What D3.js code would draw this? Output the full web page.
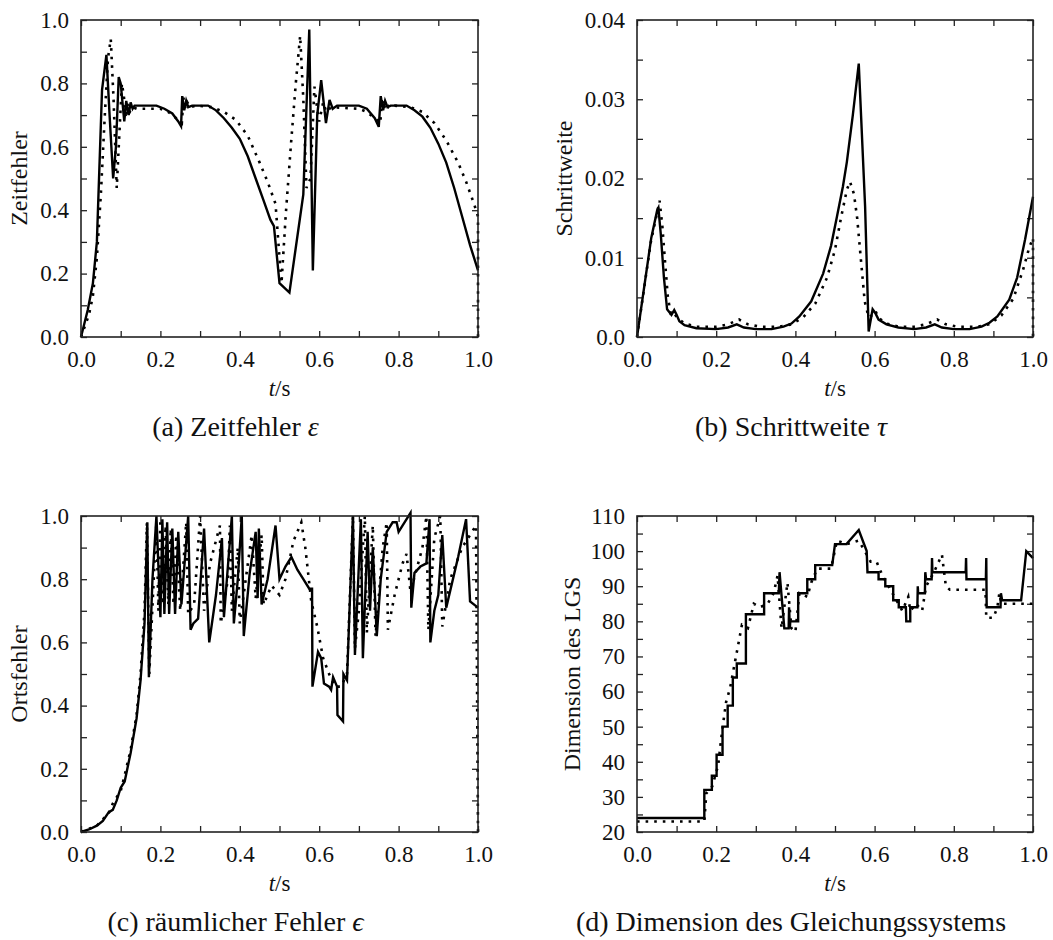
<!DOCTYPE html>
<html>
<head>
<meta charset="utf-8">
<script src="https://cdn.jsdelivr.net/npm/d3@7"></script>
<style>
  body { margin: 0; background: #fff; }
  svg text { font-family: "Liberation Serif", "DejaVu Serif", serif; fill: #111; }
</style>
</head>
<body>
<svg id="fig" width="1053" height="940"></svg>
<script>
// (a) Zeitfehler, [t, value]
const zeitSolid = [[0,0],[0.017,0.085],[0.03,0.17],[0.04,0.3],[0.053,0.78],[0.064,0.89],[0.072,0.7],[0.081,0.5],[0.088,0.6],[0.095,0.82],[0.1,0.8],[0.109,0.68],[0.114,0.745],[0.12,0.7],[0.125,0.74],[0.13,0.72],[0.135,0.73],[0.16,0.73],[0.19,0.73],[0.21,0.72],[0.23,0.705],[0.245,0.68],[0.252,0.665],[0.255,0.76],[0.26,0.715],[0.265,0.745],[0.27,0.725],[0.28,0.73],[0.32,0.73],[0.34,0.715],[0.36,0.69],[0.38,0.66],[0.4,0.625],[0.42,0.57],[0.44,0.5],[0.46,0.43],[0.477,0.37],[0.486,0.35],[0.5,0.17],[0.525,0.14],[0.56,0.45],[0.575,0.97],[0.584,0.21],[0.595,0.7],[0.605,0.81],[0.617,0.675],[0.626,0.748],[0.634,0.72],[0.645,0.73],[0.7,0.73],[0.72,0.72],[0.74,0.69],[0.75,0.663],[0.755,0.76],[0.761,0.715],[0.766,0.745],[0.772,0.725],[0.78,0.73],[0.82,0.73],[0.84,0.715],[0.86,0.695],[0.88,0.66],[0.9,0.61],[0.92,0.55],[0.94,0.47],[0.96,0.38],[0.98,0.29],[1.0,0.21]]
const zeitDotted = [[0,0],[0.02,0.07],[0.03,0.13],[0.04,0.25],[0.05,0.45],[0.06,0.7],[0.068,0.88],[0.075,0.94],[0.082,0.75],[0.09,0.47],[0.097,0.65],[0.103,0.8],[0.108,0.76],[0.113,0.69],[0.118,0.735],[0.123,0.71],[0.13,0.725],[0.14,0.72],[0.2,0.72],[0.22,0.71],[0.24,0.69],[0.25,0.68],[0.254,0.675],[0.258,0.755],[0.263,0.72],[0.268,0.74],[0.275,0.725],[0.29,0.73],[0.33,0.725],[0.36,0.71],[0.39,0.685],[0.42,0.635],[0.45,0.55],[0.47,0.49],[0.49,0.42],[0.5,0.25],[0.505,0.17],[0.516,0.39],[0.529,0.61],[0.541,0.8],[0.552,0.95],[0.56,0.75],[0.568,0.47],[0.578,0.5],[0.588,0.79],[0.595,0.72],[0.6,0.68],[0.61,0.74],[0.618,0.71],[0.63,0.725],[0.7,0.72],[0.72,0.71],[0.74,0.69],[0.754,0.675],[0.758,0.755],[0.763,0.72],[0.768,0.74],[0.775,0.725],[0.79,0.73],[0.83,0.725],[0.86,0.71],[0.89,0.675],[0.92,0.62],[0.95,0.55],[0.97,0.49],[0.99,0.42],[1.0,0.38],[1.0,0]]

// (b) Schrittweite
const stepSolid = [[0,0],[0.036,0.0125],[0.051,0.016],[0.054,0.0163],[0.06,0.013],[0.068,0.0075],[0.076,0.0035],[0.087,0.0028],[0.094,0.0034],[0.1,0.0028],[0.107,0.002],[0.12,0.0015],[0.15,0.0011],[0.2,0.001],[0.23,0.0012],[0.252,0.0016],[0.27,0.0012],[0.3,0.001],[0.34,0.001],[0.37,0.0013],[0.39,0.0017],[0.41,0.0026],[0.44,0.0045],[0.47,0.008],[0.49,0.0115],[0.505,0.0152],[0.52,0.019],[0.53,0.0221],[0.545,0.028],[0.56,0.0345],[0.576,0.0165],[0.585,0.0007],[0.595,0.0035],[0.602,0.003],[0.61,0.0022],[0.63,0.0016],[0.66,0.0012],[0.7,0.001],[0.73,0.0012],[0.752,0.0016],[0.77,0.0012],[0.8,0.001],[0.84,0.001],[0.87,0.0013],[0.89,0.0018],[0.91,0.0026],[0.94,0.0047],[0.96,0.0075],[0.98,0.0123],[1.0,0.0177]]
const stepDotted = [[0,0],[0.035,0.012],[0.05,0.0155],[0.057,0.0172],[0.064,0.014],[0.07,0.01],[0.078,0.005],[0.085,0.003],[0.092,0.0032],[0.1,0.0025],[0.12,0.0017],[0.15,0.0013],[0.2,0.0013],[0.23,0.0016],[0.258,0.0022],[0.28,0.0016],[0.31,0.0013],[0.36,0.0013],[0.39,0.0016],[0.42,0.0025],[0.45,0.0042],[0.48,0.0075],[0.5,0.011],[0.515,0.015],[0.53,0.0186],[0.538,0.0196],[0.548,0.018],[0.556,0.015],[0.565,0.01],[0.575,0.0045],[0.585,0.0025],[0.595,0.0028],[0.602,0.0033],[0.61,0.0024],[0.63,0.0017],[0.66,0.0013],[0.7,0.0013],[0.73,0.0016],[0.758,0.0022],[0.78,0.0016],[0.81,0.0013],[0.86,0.0013],[0.89,0.0016],[0.92,0.0027],[0.95,0.0048],[0.975,0.0085],[0.99,0.0112],[1.0,0.0125],[1.0,0]]

// (c) Ortsfehler
const ortSolid = [[0,0],[0.02,0.008],[0.04,0.02],[0.055,0.035],[0.07,0.063],[0.08,0.07],[0.09,0.1],[0.1,0.14],[0.11,0.16],[0.125,0.25],[0.14,0.36],[0.15,0.48],[0.16,0.66],[0.167,0.98],[0.171,0.49],[0.18,0.8],[0.19,1.0],[0.2,0.68],[0.205,0.99],[0.21,0.69],[0.217,0.98],[0.222,0.69],[0.23,0.96],[0.237,0.69],[0.245,0.95],[0.253,0.72],[0.27,1.0],[0.276,0.64],[0.283,0.66],[0.295,0.675],[0.31,0.96],[0.323,0.6],[0.34,0.75],[0.355,0.93],[0.36,0.68],[0.38,1.0],[0.385,0.66],[0.395,0.8],[0.405,1.0],[0.41,0.62],[0.425,0.82],[0.44,0.95],[0.445,0.74],[0.448,0.96],[0.455,0.72],[0.47,0.8],[0.49,0.97],[0.5,0.8],[0.515,0.84],[0.53,0.87],[0.545,0.83],[0.56,0.8],[0.575,0.77],[0.582,0.77],[0.583,0.46],[0.597,0.57],[0.605,0.55],[0.612,0.47],[0.625,0.46],[0.63,0.45],[0.635,0.49],[0.645,0.46],[0.646,0.37],[0.66,0.35],[0.661,0.5],[0.67,0.48],[0.685,1.0],[0.69,0.56],[0.705,0.99],[0.71,0.55],[0.722,0.95],[0.728,0.7],[0.735,0.9],[0.745,0.62],[0.755,0.8],[0.77,0.95],[0.785,0.98],[0.795,0.98],[0.8,0.95],[0.815,0.98],[0.83,1.01],[0.832,0.71],[0.84,0.82],[0.855,0.84],[0.87,0.85],[0.878,0.99],[0.88,0.6],[0.89,0.7],[0.9,0.75],[0.91,0.94],[0.92,0.71],[0.95,0.87],[0.97,0.99],[0.98,0.73],[1.0,0.71]]
const ortDotted = [[0,0],[0.04,0.02],[0.07,0.06],[0.08,0.09],[0.1,0.13],[0.11,0.18],[0.125,0.26],[0.14,0.37],[0.15,0.5],[0.16,0.7],[0.166,0.98],[0.172,0.5],[0.19,0.98],[0.195,0.7],[0.2,0.99],[0.207,0.72],[0.213,0.97],[0.22,0.72],[0.226,0.96],[0.233,0.72],[0.24,0.94],[0.25,0.7],[0.265,0.98],[0.27,0.69],[0.285,0.72],[0.3,1.0],[0.31,0.7],[0.325,0.85],[0.35,0.97],[0.352,0.66],[0.37,0.8],[0.375,0.97],[0.38,0.7],[0.395,0.9],[0.4,0.66],[0.415,0.8],[0.43,0.94],[0.44,0.74],[0.455,0.94],[0.46,0.72],[0.48,0.78],[0.5,0.75],[0.515,0.8],[0.535,0.92],[0.555,0.98],[0.565,0.9],[0.58,0.73],[0.595,0.65],[0.61,0.55],[0.625,0.5],[0.64,0.46],[0.655,0.46],[0.67,0.5],[0.685,1.0],[0.69,0.58],[0.7,0.7],[0.715,1.0],[0.72,0.63],[0.735,0.97],[0.742,0.62],[0.76,0.9],[0.77,0.98],[0.773,0.64],[0.79,0.75],[0.81,0.85],[0.82,0.88],[0.83,0.76],[0.86,0.9],[0.87,1.0],[0.875,0.64],[0.89,0.93],[0.905,1.0],[0.91,0.65],[0.93,0.8],[0.96,0.9],[0.995,0.97],[1.0,0.0]]

// (d) Dimension des LGS
const dimSolid = [[0,24],[0.17,24],[0.17,32],[0.189,32],[0.189,36],[0.201,36],[0.201,42],[0.216,42],[0.216,50],[0.229,50],[0.229,56],[0.242,56],[0.242,64],[0.252,64],[0.252,68],[0.275,68],[0.275,82],[0.321,82],[0.321,88],[0.358,88],[0.36,94],[0.372,78],[0.383,78],[0.384,84],[0.386,78],[0.387,80],[0.407,80],[0.407,88],[0.43,88],[0.43,92],[0.45,92],[0.45,96],[0.493,96],[0.5,102],[0.529,102],[0.56,106],[0.58,100],[0.582,94],[0.61,94],[0.61,92],[0.627,92],[0.627,90],[0.647,90],[0.647,86],[0.661,86],[0.661,84],[0.679,84],[0.68,80],[0.69,80],[0.69,84],[0.708,84],[0.709,90],[0.71,88],[0.727,88],[0.728,94],[0.73,92],[0.744,92],[0.745,98],[0.746,94],[0.83,94],[0.831,98],[0.832,92],[0.881,92],[0.882,98],[0.883,84],[0.918,84],[0.919,88],[0.922,86],[0.97,86],[0.983,100],[1.0,98]]
const dimDotted = [[0,23],[0.17,23],[0.175,31],[0.19,33],[0.195,35],[0.205,39],[0.212,46],[0.22,53],[0.225,57],[0.235,61],[0.245,67],[0.255,73],[0.265,79],[0.28,78],[0.295,85],[0.31,84],[0.33,85],[0.345,88],[0.355,93],[0.365,78],[0.38,91],[0.39,78],[0.4,77],[0.41,88],[0.43,87],[0.44,91],[0.455,95],[0.49,95],[0.505,103],[0.53,102],[0.56,103],[0.575,100],[0.59,97],[0.605,97],[0.62,93],[0.64,89],[0.655,86],[0.67,83],[0.685,87],[0.69,83],[0.705,85],[0.72,83],[0.73,90],[0.75,94],[0.77,99],[0.78,90],[0.79,89],[0.88,89],[0.882,81],[0.9,81],[0.91,84],[0.915,88],[0.92,85],[1.0,85]]

const panels = [
  { left: 81, right: 478, top: 20, bottom: 337, yDomain: [0, 1], yStep: 0.1, yLabelEvery: 2,
    yFmt: d3.format('.1f'), ylabel: 'Zeitfehler', ylabelX: 19, caption: '(a) Zeitfehler ', sym: 'ε',
    solid: zeitSolid, dotted: zeitDotted },
  { left: 637, right: 1033, top: 20, bottom: 337, yDomain: [0, 0.04], yStep: 0.005, yLabelEvery: 2,
    yFmt: v => v === 0 ? '0.0' : d3.format('.2f')(v), ylabel: 'Schrittweite', ylabelX: 564, caption: '(b) Schrittweite ', sym: 'τ',
    solid: stepSolid, dotted: stepDotted },
  { left: 81, right: 478, top: 516, bottom: 832, yDomain: [0, 1], yStep: 0.1, yLabelEvery: 2,
    yFmt: d3.format('.1f'), ylabel: 'Ortsfehler', ylabelX: 19, caption: '(c) räumlicher Fehler ', sym: 'ϵ',
    solid: ortSolid, dotted: ortDotted },
  { left: 637, right: 1033, top: 516, bottom: 832, yDomain: [20, 110], yStep: 5, yLabelEvery: 2,
    yFmt: d3.format('d'), ylabel: 'Dimension des LGS', ylabelX: 572, caption: '(d) Dimension des Gleichungssystems', sym: '',
    solid: dimSolid, dotted: dimDotted }
]

const svg = d3.select('#fig')
const tickLen = 6

panels.forEach(p => {
  const x = d3.scaleLinear().domain([0, 1]).range([p.left, p.right])
  const y = d3.scaleLinear().domain(p.yDomain).range([p.bottom, p.top])

  const xTicks = d3.range(0, 11).map(i => i / 10)
  const nY = Math.round((p.yDomain[1] - p.yDomain[0]) / p.yStep)
  const yTicks = d3.range(0, nY + 1).map(i => p.yDomain[0] + i * p.yStep)

  const styleAxis = g => {
    g.select('.domain').remove()
    g.selectAll('line').attr('stroke', '#222').attr('stroke-width', 1.3)
    g.selectAll('text').attr('font-size', 23).attr('font-family', null).attr('fill', '#111')
  }

  // bottom / left with labels, top / right mirrored without
  svg.append('g')
    .attr('transform', `translate(0,${p.bottom})`)
    .call(d3.axisBottom(x).tickValues(xTicks).tickSize(-tickLen).tickPadding(14)
      .tickFormat((d, i) => i % 2 === 0 ? d3.format('.1f')(d) : ''))
    .call(styleAxis)
  svg.append('g')
    .attr('transform', `translate(0,${p.top})`)
    .call(d3.axisTop(x).tickValues(xTicks).tickSize(-tickLen).tickFormat(''))
    .call(styleAxis)
  svg.append('g')
    .attr('transform', `translate(${p.left},0)`)
    .call(d3.axisLeft(y).tickValues(yTicks).tickSize(-tickLen).tickPadding(12)
      .tickFormat((d, i) => i % p.yLabelEvery === 0 ? p.yFmt(d) : ''))
    .call(styleAxis)
  svg.append('g')
    .attr('transform', `translate(${p.right},0)`)
    .call(d3.axisRight(y).tickValues(yTicks).tickSize(-tickLen).tickFormat(''))
    .call(styleAxis)

  const line = d3.line().x(d => x(d[0])).y(d => y(d[1]))

  svg.append('path')
    .attr('d', line(p.dotted))
    .attr('fill', 'none')
    .attr('stroke', '#000')
    .attr('stroke-width', 2.6)
    .attr('stroke-dasharray', '2.6 6')

  svg.append('path')
    .attr('d', line(p.solid))
    .attr('fill', 'none')
    .attr('stroke', '#000')
    .attr('stroke-width', 2.4)
    .attr('stroke-linejoin', 'miter')

  // frame
  svg.append('rect')
    .attr('x', p.left).attr('y', p.top)
    .attr('width', p.right - p.left).attr('height', p.bottom - p.top)
    .attr('fill', 'none').attr('stroke', '#222').attr('stroke-width', 1.6)

  const cx = (p.left + p.right) / 2

  // x label  t/s
  const xl = svg.append('text')
    .attr('x', cx).attr('y', p.bottom + 59)
    .attr('text-anchor', 'middle').attr('font-size', 23)
  xl.append('tspan').attr('font-style', 'italic').text('t')
  xl.append('tspan').text('/s')

  // y label
  svg.append('text')
    .attr('transform', `translate(${p.ylabelX},${(p.top + p.bottom) / 2}) rotate(-90)`)
    .attr('dy', '0.35em')
    .attr('text-anchor', 'middle').attr('font-size', 24)
    .text(p.ylabel)

  // caption, centred on the subfigure box rather than on the plot
  const cap = svg.append('text')
    .attr('x', cx - 44).attr('y', p.bottom + 99)
    .attr('text-anchor', 'middle').attr('font-size', 28)
  cap.append('tspan').text(p.caption)
  if (p.sym) cap.append('tspan').attr('font-style', 'italic').text(p.sym)
})
</script>
</body>
</html>
